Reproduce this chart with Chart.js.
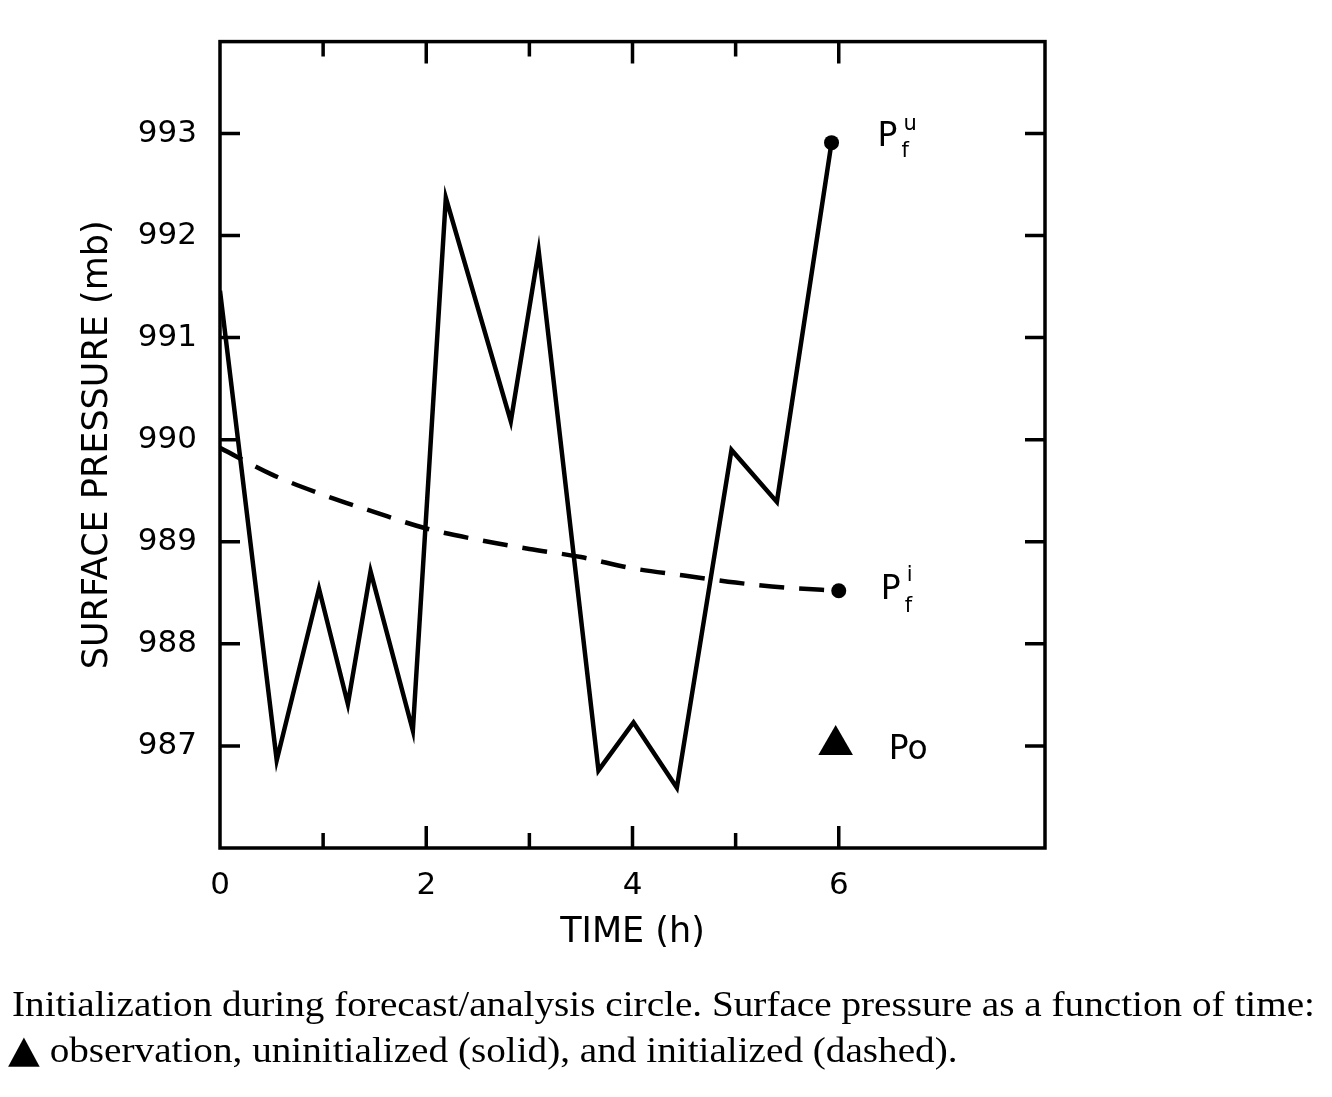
<!DOCTYPE html>
<html>
<head>
<meta charset="utf-8">
<script src="https://cdn.jsdelivr.net/npm/chart.js@4.4.1/dist/chart.umd.min.js"></script>
<style>
  body { margin: 0; background: #fff; }
  #wrap { position: absolute; left: 0; top: 0; width: 1332px; height: 1097px; }
  .cap { position: absolute; font-family: "Liberation Serif", "Times New Roman", serif; font-size: 36px;
         line-height: 1.15; color: #000; white-space: nowrap; transform-origin: 0 0; }
</style>
</head>
<body>
<div id="wrap"><canvas id="presion"></canvas></div>
<div class="cap" id="cap1" style="top:984px; left:12px">Initialization during forecast/analysis circle. Surface pressure as a function of time:</div>
<div class="cap" id="cap2" style="top:1030px; left:8px"><span style="font-family:'DejaVu Sans'; font-size:38px; line-height:1">▲</span> observation, uninitialized (solid), and initialized (dashed).</div>
<script>
// tiempos y presiones
const tiempoSinInit = [0, 0.55, 0.96, 1.24, 1.46, 1.87, 2.19, 2.82, 3.09, 3.67, 4.01, 4.43, 4.96, 5.40, 5.93];
const presionSinInit = [991.46, 986.86, 988.54, 987.41, 988.71, 987.15, 992.37, 990.18, 991.85, 986.76, 987.23, 986.59, 989.90, 989.39, 992.91];

const tiempoInit = [0, 0.5, 1, 1.5, 2, 2.5, 3, 3.5, 4, 4.5, 5, 5.5, 6];
const presionInit = [989.92, 989.66, 989.46, 989.29, 989.13, 989.02, 988.93, 988.85, 988.74, 988.67, 988.60, 988.55, 988.52];

const tiempoObs = [5.97];
const presionObs = [987.01];

const ticksX = [1, 2, 3, 4, 5, 6];
const ticksY = [987, 988, 989, 990, 991, 992, 993];

function pares(xs, ys) {
  return xs.map(function(x, i) { return { x: x, y: ys[i] }; });
}

// marcas hacia dentro y el marco
const marco = {
  id: 'marco',
  afterDraw: function(chart) {
    const ctx = chart.ctx;
    const a = chart.chartArea;
    const sx = chart.scales.x, sy = chart.scales.y;
    ctx.save();
    ctx.strokeStyle = '#000';
    ctx.lineWidth = 3.5;
    ctx.strokeRect(a.left, a.top, a.right - a.left, a.bottom - a.top);
    ctx.beginPath();
    ticksX.forEach(function(t) {
      const px = sx.getPixelForValue(t);
      const len = t % 2 === 0 ? 22 : 15;
      ctx.moveTo(px, a.bottom); ctx.lineTo(px, a.bottom - len);
      ctx.moveTo(px, a.top); ctx.lineTo(px, a.top + len);
    });
    ticksY.forEach(function(v) {
      const py = sy.getPixelForValue(v);
      ctx.moveTo(a.left, py); ctx.lineTo(a.left + 20, py);
      ctx.moveTo(a.right, py); ctx.lineTo(a.right - 20, py);
    });
    ctx.stroke();

    // etiquetas P
    function ultimo(i) {
      const d = chart.getDatasetMeta(i).data;
      return d[d.length - 1];
    }
    ctx.fillStyle = '#000';
    ctx.textBaseline = 'alphabetic';
    const pu = ultimo(0), pi = ultimo(1), po = ultimo(2);
    ctx.font = '33px "DejaVu Sans"';
    ctx.fillText('P', pu.x + 46, pu.y + 3);
    ctx.fillText('P', pi.x + 42, pi.y + 8);
    ctx.fillText('Po', po.x + 53, po.y + 14);
    ctx.font = '21px "DejaVu Sans"';
    ctx.fillText('u', pu.x + 72, pu.y - 13);
    ctx.fillText('f', pu.x + 70, pu.y + 14);
    ctx.fillText('i', pi.x + 68, pi.y - 10);
    ctx.fillText('f', pi.x + 66, pi.y + 21);
    ctx.restore();
  }
};

const ctx = document.getElementById('presion').getContext('2d');
new Chart(ctx, {
  type: 'line',
  data: {
    datasets: [
      {
        data: pares(tiempoSinInit, presionSinInit),
        borderColor: '#000',
        borderWidth: 4.5,
        tension: 0,
        pointRadius: function(c) { return c.dataIndex === tiempoSinInit.length - 1 ? 7.5 : 0; },
        pointBackgroundColor: '#000',
        pointBorderWidth: 0
      },
      {
        data: pares(tiempoInit, presionInit),
        borderColor: '#000',
        borderWidth: 4.5,
        borderDash: [25, 15],
        cubicInterpolationMode: 'monotone',
        pointRadius: function(c) { return c.dataIndex === tiempoInit.length - 1 ? 7.5 : 0; },
        pointBackgroundColor: '#000',
        pointBorderWidth: 0
      },
      {
        data: pares(tiempoObs, presionObs),
        showLine: false,
        pointStyle: 'triangle',
        pointRadius: 20,
        pointBackgroundColor: '#000',
        pointBorderWidth: 0
      }
    ]
  },
  options: {
    responsive: true,
    maintainAspectRatio: false,
    animation: false,
    layout: { padding: { left: 0, top: 38, right: 287, bottom: 137 } },
    plugins: {
      legend: { display: false },
      tooltip: { enabled: false }
    },
    scales: {
      x: {
        type: 'linear',
        min: 0,
        max: 8,
        afterFit: function(s) { s.height = 112; },
        grid: { display: false, drawTicks: false },
        border: { display: false },
        ticks: {
          stepSize: 1,
          padding: 19,
          maxRotation: 0,
          autoSkip: false,
          color: '#000',
          font: { family: 'DejaVu Sans', size: 31 },
          callback: function(v) { return (v % 2 === 0 && v < 8) ? v : ''; }
        },
        title: {
          display: true,
          text: 'TIME (h)',
          color: '#000',
          font: { family: 'DejaVu Sans', size: 35 },
          padding: { top: 0, bottom: 6 }
        }
      },
      y: {
        min: 986,
        max: 993.9,
        afterFit: function(s) { s.width = 220; },
        grid: { display: false, drawTicks: false },
        border: { display: false },
        ticks: {
          stepSize: 1,
          padding: 23,
          color: '#000',
          font: { family: 'DejaVu Sans', size: 31 },
          callback: function(v) { return ticksY.indexOf(v) >= 0 ? v : ''; }
        },
        title: {
          display: true,
          text: 'SURFACE PRESSURE (mb)',
          color: '#000',
          font: { family: 'DejaVu Sans', size: 35 },
          padding: { top: 77, bottom: 0 }
        }
      }
    }
  },
  plugins: [marco]
});

// ajustar el ancho del pie de figura
const c1 = document.getElementById('cap1');
const c2 = document.getElementById('cap2');
const k = 1303 / c1.getBoundingClientRect().width;
c1.style.transform = 'scaleX(' + k + ')';
c2.style.transform = 'scaleX(' + k + ')';
</script>
</body>
</html>
